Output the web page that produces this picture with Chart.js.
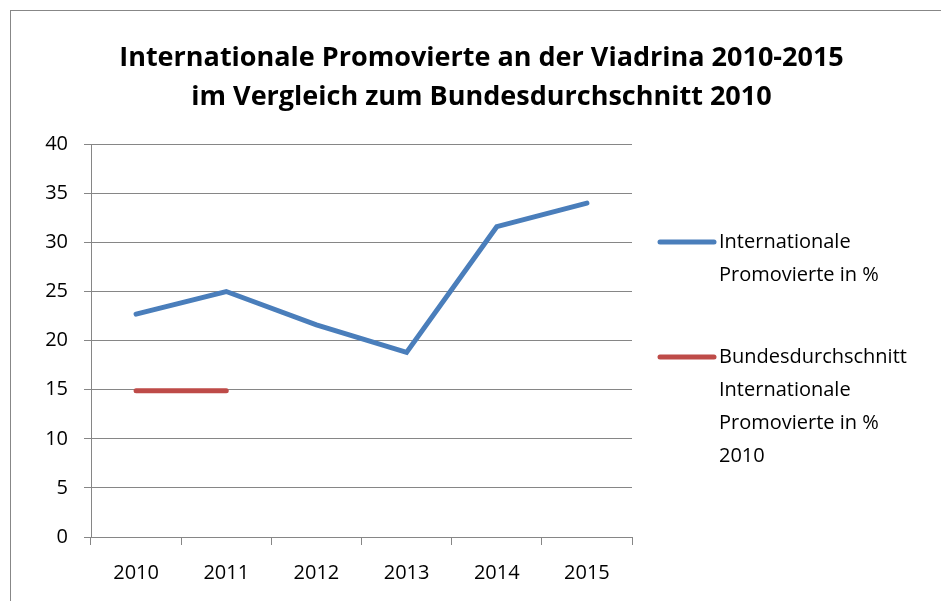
<!DOCTYPE html>
<html lang="de">
<head>
<meta charset="UTF-8">
<title>Internationale Promovierte</title>
<script src="https://cdn.jsdelivr.net/npm/chart.js"></script>
<style>
    body { margin: 0; background: #fff; }
    #wrap { position: relative; width: 941px; height: 601px; }
    #frame {
        position: absolute; left: 10px; top: 10px; right: -5px; bottom: -5px;
        border-left: 1px solid #878787; border-top: 1px solid #878787;
        pointer-events: none;
    }
</style>
</head>
<body>
<div id="wrap">
    <canvas id="chart" width="941" height="601"></canvas>
    <div id="frame"></div>
</div>
<script>
const years = ['2010', '2011', '2012', '2013', '2014', '2015'];
const viadrina = [22.7, 25.0, 21.6, 18.8, 31.6, 34.0];
const bund = [14.9, 14.9, null, null, null, null];
const legendLabels = [
    ['Internationale', 'Promovierte in %'],
    ['Bundesdurchschnitt', 'Internationale', 'Promovierte in %', '2010']
];
const titleLines = ['Internationale Promovierte an der Viadrina 2010-2015',
                    'im Vergleich zum Bundesdurchschnitt 2010'];

const FONT = '"Open Sans", Lato, sans-serif';
const blue = '#4a7ebb';
const red = '#be4b48';
const gridColor = '#868686';

// legend drawn by hand so the labels can wrap like in the original
const sideLegend = {
    id: 'sideLegend',
    afterDraw(chart) {
        const ctx = chart.ctx;
        const x0 = chart.chartArea.right + 28;
        const starts = [242, 357];
        ctx.save();
        ctx.font = '20px ' + FONT;
        ctx.textBaseline = 'middle';
        ctx.fillStyle = '#000';
        chart.data.datasets.forEach((ds, i) => {
            const y = starts[i];
            ctx.strokeStyle = ds.borderColor;
            ctx.lineWidth = 5;
            ctx.lineCap = 'round';
            ctx.beginPath();
            ctx.moveTo(x0, y);
            ctx.lineTo(x0 + 54, y);
            ctx.stroke();
            legendLabels[i].forEach((t, j) => ctx.fillText(t, x0 + 59, y + j * 33));
        });
        ctx.restore();
    }
};

new Chart(document.getElementById('chart'), {
    type: 'line',
    data: {
        labels: years,
        datasets: [
            { label: legendLabels[0].join(' '), data: viadrina, borderColor: blue,
              borderWidth: 5, borderCapStyle: 'round', borderJoinStyle: 'miter', pointRadius: 0, tension: 0 },
            { label: legendLabels[1].join(' '), data: bund, borderColor: red,
              borderWidth: 5, borderCapStyle: 'round', pointRadius: 0, tension: 0 }
        ]
    },
    options: {
        responsive: false,
        animation: false,
        layout: { padding: { left: 22, top: 10, right: 0, bottom: 0 } },
        plugins: {
            legend: { display: false },
            tooltip: { enabled: false },
            title: {
                display: true,
                text: titleLines,
                color: '#000',
                font: { family: FONT, size: 27, weight: 'bold', lineHeight: 1.43 },
                padding: { top: 29, bottom: 28 }
            }
        },
        scales: {
            x: {
                offset: true,
                grid: { display: true, drawOnChartArea: false, color: gridColor, tickLength: 8, offset: true },
                border: { color: gridColor },
                ticks: { color: '#000', font: { family: FONT, size: 20 }, padding: 16, maxRotation: 0 },
                afterFit(s) { s.height = 64; }
            },
            y: {
                min: 0, max: 40,
                ticks: { stepSize: 5, color: '#000', font: { family: FONT, size: 20 }, padding: 16 },
                grid: { color: gridColor, tickLength: 7 },
                border: { color: gridColor },
                afterFit(s) { s.width = 69; }
            },
            spacer: {
                position: 'right',
                display: true,
                grid: { display: false },
                border: { display: false },
                ticks: { display: false },
                afterFit(s) { s.width = 309; }
            }
        }
    },
    plugins: [sideLegend]
});
</script>
</body>
</html>
